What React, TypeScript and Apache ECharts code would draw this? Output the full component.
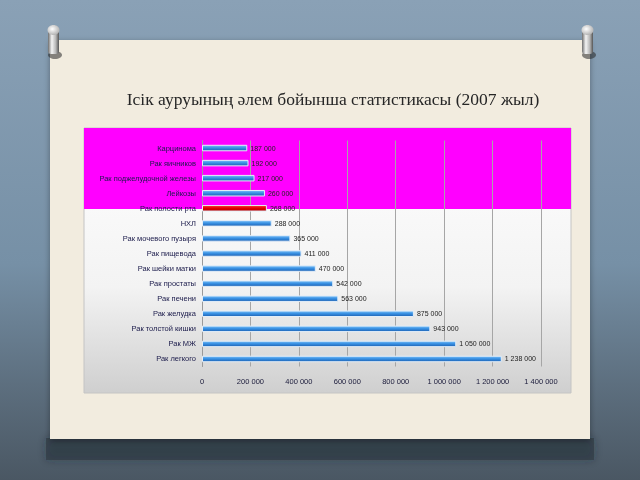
import React, { useEffect, useRef } from "react";
import * as echarts from "echarts";

const titleText = "Ісік ауруының әлем бойынша статистикасы (2007 жыл)";
const categories = [
  "Карцинома",
  "Рак яичников",
  "Рак поджелудочной железы",
  "Лейкозы",
  "Рак полости рта",
  "НХЛ",
  "Рак мочевого пузыря",
  "Рак пищевода",
  "Рак шейки матки",
  "Рак простаты",
  "Рак печени",
  "Рак желудка",
  "Рак толстой кишки",
  "Рак МЖ",
  "Рак легкого",
];
const values = [
  187000, 192000, 217000, 260000, 268000, 288000, 365000, 411000, 470000,
  542000, 563000, 875000, 943000, 1050000, 1238000,
];
const highlighted = ["Рак полости рта"];
const axisMax = 1400000;
const axisStep = 200000;

const fmt = (n: number) => String(n).replace(/\B(?=(\d{3})+(?!\d))/g, " ");

const blueGrad = new echarts.graphic.LinearGradient(0, 0, 0, 1, [
  { offset: 0, color: "#7cc0f8" },
  { offset: 0.45, color: "#3a92e4" },
  { offset: 1, color: "#1d62b4" },
]);
const redGrad = new echarts.graphic.LinearGradient(0, 0, 0, 1, [
  { offset: 0, color: "#ff3030" },
  { offset: 0.5, color: "#e00000" },
  { offset: 1, color: "#b00000" },
]);

function pin(cx: number, cy: number) {
  return {
    type: "group",
    x: cx,
    y: cy,
    children: [
      {
        type: "ellipse",
        shape: { cx: 2, cy: 19, rx: 7, ry: 4 },
        style: { fill: "rgba(40,40,40,0.55)" },
      },
      {
        type: "rect",
        shape: { x: -5, y: -6, width: 11, height: 24, r: 3 },
        style: {
          fill: new echarts.graphic.LinearGradient(0, 0, 1, 0, [
            { offset: 0, color: "#6d6d6d" },
            { offset: 0.35, color: "#f4f4f4" },
            { offset: 0.7, color: "#b8b8b8" },
            { offset: 1, color: "#555" },
          ]),
        },
      },
      {
        type: "ellipse",
        shape: { cx: 0.5, cy: -6, rx: 6, ry: 5 },
        style: {
          fill: new echarts.graphic.RadialGradient(0.4, 0.4, 0.7, [
            { offset: 0, color: "#ffffff" },
            { offset: 1, color: "#a9a9a9" },
          ]),
        },
      },
    ],
  };
}

export default function App() {
  const ref = useRef<HTMLDivElement>(null);
  useEffect(() => {
    if (!ref.current) return;
    const chart = echarts.init(ref.current, undefined, { renderer: "svg" });
    chart.setOption({
      animation: false,
      graphic: [
        {
          type: "rect",
          z: -10,
          silent: true,
          shape: { x: 0, y: 0, width: 640, height: 480 },
          style: {
            fill: new echarts.graphic.LinearGradient(0, 0, 0, 1, [
              { offset: 0, color: "#8aa1b6" },
              { offset: 0.55, color: "#7690a6" },
              { offset: 0.8, color: "#5d6f7f" },
              { offset: 1, color: "#4a5763" },
            ]),
          },
        },
        {
          type: "rect",
          z: -9,
          silent: true,
          shape: { x: 46, y: 438, width: 548, height: 22 },
          style: { fill: "rgba(45,55,65,0.6)", shadowBlur: 8, shadowColor: "rgba(30,38,46,0.6)" },
        },
        {
          type: "rect",
          z: -8,
          silent: true,
          shape: { x: 50, y: 40, width: 540, height: 399 },
          style: {
            fill: "#f2ecdf",
            shadowBlur: 6,
            shadowOffsetY: 2,
            shadowColor: "rgba(0,0,0,0.35)",
          },
        },
        {
          type: "rect",
          z: -7,
          silent: true,
          shape: { x: 84, y: 128, width: 487, height: 265 },
          style: {
            fill: new echarts.graphic.LinearGradient(0, 0, 0, 1, [
              { offset: 0, color: "#ffffff" },
              { offset: 0.6, color: "#f3f3f3" },
              { offset: 1, color: "#cfcfcf" },
            ]),
            stroke: "#c4c4c4",
            lineWidth: 1,
          },
        },
        {
          type: "rect",
          z: -6,
          silent: true,
          shape: { x: 84, y: 128, width: 487, height: 81 },
          style: { fill: "#ff00ff" },
        },
        {
          type: "text",
          z: 5,
          x: 333,
          y: 99,
          style: {
            text: titleText,
            fill: "#262626",
            font: "17.5px 'Liberation Serif', 'DejaVu Serif', serif",
            textAlign: "center",
            textVerticalAlign: "middle",
          },
        },
        { ...pin(53, 36), z: 6 },
        { ...pin(587, 36), z: 6 },
      ],
      grid: { left: 202, right: 99, top: 140.5, height: 226, containLabel: false },
      xAxis: {
        type: "value",
        min: 0,
        max: axisMax,
        interval: axisStep,
        axisLine: { show: false },
        axisTick: { show: false },
        axisLabel: {
          formatter: (v: number) => fmt(v),
          fontSize: 7.5,
          color: "#1a1a3a",
          fontFamily: "'Liberation Sans', Arial, sans-serif",
          margin: 11,
        },
        splitLine: { show: true, lineStyle: { color: "#a6a6a6", width: 1 } },
      },
      yAxis: {
        type: "category",
        data: categories,
        inverse: true,
        axisLine: { show: true, lineStyle: { color: "#9a9a9a" } },
        axisTick: { show: false },
        axisLabel: {
          fontSize: 7.5,
          color: "#1a1a4a",
          fontFamily: "'Liberation Sans', Arial, sans-serif",
          margin: 6,
        },
      },
      series: [
        {
          type: "bar",
          barWidth: 6.5,
          data: values.map((v, i) => ({
            value: v,
            itemStyle: {
              color: highlighted.includes(categories[i]) ? redGrad : blueGrad,
              borderColor: "#e4eef8",
              borderWidth: 1,
            },
          })),
          label: {
            show: true,
            position: "right",
            distance: 3,
            fontSize: 7,
            color: "#222",
            fontFamily: "'Liberation Sans', Arial, sans-serif",
            formatter: (p: any) => fmt(p.value),
          },
        },
      ],
    });
    return () => chart.dispose();
  }, []);
  return (
    <div
      ref={ref}
      style={{ position: "fixed", left: 0, top: 0, width: 640, height: 480 }}
    />
  );
}
